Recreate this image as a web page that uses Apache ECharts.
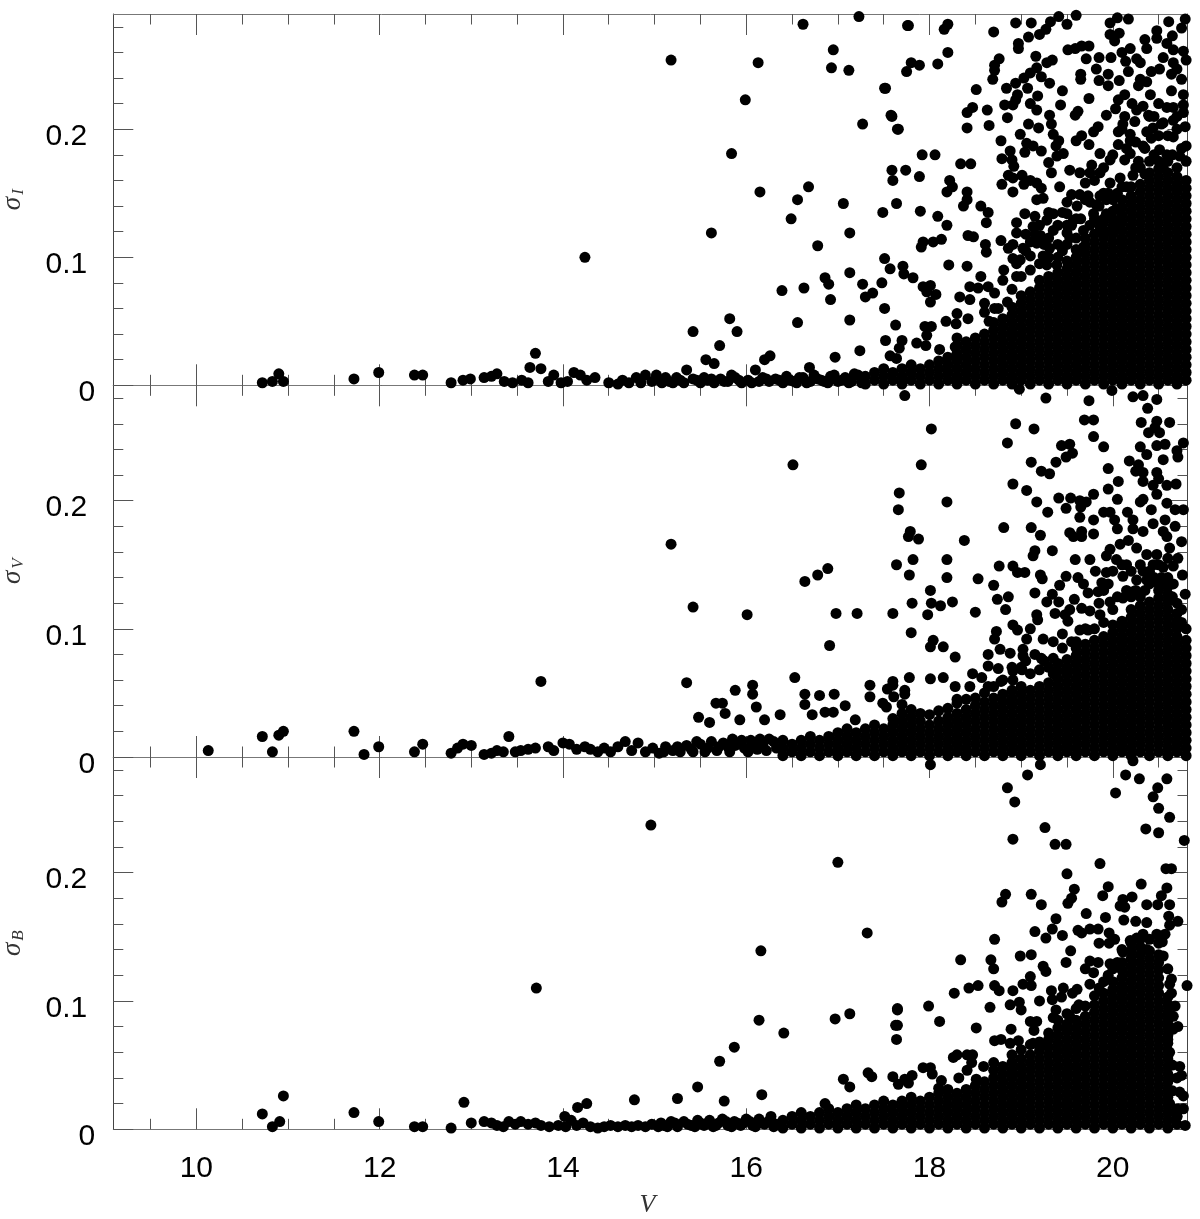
<!DOCTYPE html>
<html><head><meta charset="utf-8">
<style>html,body{margin:0;padding:0;background:#fff}#c{width:1200px;height:1219px}</style>
<script src="https://cdn.jsdelivr.net/npm/echarts@6/dist/echarts.min.js"></script>
</head><body><div id="c"></div>
<script>
const xMajor=[10,12,14,16,18,20];
const xMinor=[9.5,10.5,11,11.5,12.5,13,13.5,14.5,15,15.5,16.5,17,17.5,18.5,19,19.5,20.5];
const yMajor=[0,0.1,0.2];
const yMinor=[0.02,0.04,0.06,0.08,0.12,0.14,0.16,0.18,0.22,0.24,0.26,0.28];
const yNames=['I','V','B'];

// Individually readable points: V, sigma, V, sigma ...
const sparseI=[10.72,.002,10.83,.003,10.9,.009,10.95,.003,11.72,.005,11.99,.01,12.38,.008,12.47,.008,12.78,.002,12.91,.004,12.99,.005,13.14,.006,13.22,.007,13.28,.009,13.36,.003,13.45,.002,13.55,.004,13.64,.014,13.7,.025,13.76,.013,13.62,.002,13.84,.003,13.9,.008,13.98,.002,14.05,.003,14.12,.01,14.19,.008,14.26,.004,14.35,.006,14.24,.1,15.18,.254,16.13,.252,15.99,.223,15.84,.181,16.15,.151,15.62,.119,16.62,.282,17.23,.288,17.77,.281,16.95,.262,16.93,.248,17.12,.246,17.27,.204,17.52,.232,17.58,.211,17.65,.2,17.06,.142,16.68,.155,16.56,.145,16.49,.13,17.13,.119,16.78,.109,16.39,.074,16.63,.076,16.86,.084,16.9,.079,17.13,.088,16.92,.067,16.56,.049,17.13,.051,17.27,.079,17.3,.069,17.38,.072,15.42,.042,15.71,.031,15.82,.052,15.9,.042,15.56,.02,15.65,.017,16.26,.023,16.2,.02,17.24,.027,16.97,.022,17.52,.035,17.57,.023,16.69,.014,
14.5,.002,14.6,.001,14.65,.004,14.72,.002,14.8,.006,14.85,.002,14.9,.008,14.97,.003,15.02,.008,15.08,.002,15.12,.006,15.2,.002,15.28,.004,15.35,.012,15.42,.005,15.5,.002,15.58,.004,15.65,.002,15.72,.005,15.8,.003,15.88,.006,15.95,.002,16.02,.004,16.1,.012,16.18,.006,16.25,.003,16.32,.005,16.4,.002,16.48,.004,16.55,.002,16.62,.006,16.7,.003,16.78,.005,16.85,.003,16.92,.007,17,.003,17.08,.006,17.15,.003,17.22,.008,17.28,.004,
15.05,.004,15.16,.003,15.24,.006,15.32,.002,15.46,.004,15.54,.006,15.62,.005,15.76,.003,15.84,.008,15.92,.004,16.06,.002,16.14,.003,16.22,.005,16.36,.004,16.44,.007,16.52,.003,16.58,.006,16.66,.002,16.74,.008,16.82,.004,16.89,.002,16.96,.008,17.04,.004,17.12,.002,17.18,.009,17.26,.002,
17.76,.281,18.16,.278,18.2,.282,18.2,.26,18.09,.251,17.8,.252,17.89,.25,17.75,.245,17.51,.232,17.59,.21,17.66,.2,18.7,.276,18.94,.283,19.11,.283,18.97,.267,18.97,.263,19.08,.272,19.2,.274,19.27,.278,19.32,.284,19.41,.288,19.5,.282,19.6,.289,19.97,.283,20.05,.287,20.17,.286,19.97,.274,20.07,.275,20.02,.269,20.61,.284,20.79,.286,20.75,.279,18.76,.255,18.71,.25,18.71,.246,18.69,.239,18.51,.231,19.16,.257,19.28,.252,19.34,.254,19.17,.248,19.1,.244,19.03,.24,18.94,.236,19.22,.241,19.31,.236,18.84,.232,19.07,.232,18.96,.227,19.18,.226,19.45,.23,18.82,.219,18.91,.219,18.94,.223,19.1,.22,19.17,.215,19.43,.219,18.47,.217,18.41,.213,18.63,.215,18.85,.209,18.41,.201,18.65,.203,19.31,.211,19.33,.204,19.08,.204,19.19,.201,18.99,.196,18.78,.191,19.35,.196,19.41,.191,19.38,.187,19.06,.189,19.13,.187,19.22,.183,19.04,.182,18.88,.183,18.79,.177,18.9,.176,18.92,.171,19.46,.181,19.39,.179,19.3,.174,19.33,.166,17.92,.18,18.06,.18,18.34,.173,18.45,.173,17.59,.168,17.74,.168,17.6,.16,17.89,.163,18.22,.16,18.25,.155,18.41,.151,18.19,.151,18.86,.164,19.01,.164,18.91,.162,18.79,.157,18.91,.151,19.1,.16,19.03,.157,19.17,.158,19.22,.154,19.42,.155,17.64,.142,17.49,.135,17.9,.136,18.09,.132,18.19,.125,18.37,.14,18.41,.145,18.56,.14,18.64,.135,18.62,.127,17.93,.112,17.91,.108,18.04,.112,18.13,.114,18.42,.117,18.48,.116,18.61,.11,18.62,.104,18.78,.113,18.86,.107,18.91,.11,17.51,.099,17.57,.091,17.71,.093,17.72,.087,17.82,.084,18.21,.094,18.41,.093,18.56,.085,17.93,.077,18.01,.078,18.07,.071,18.01,.065,17.97,.073,17.48,.08,17.51,.06,17.63,.047,18.81,.09,18.8,.082,18.95,.085,18.44,.077,18.53,.076,18.64,.077,18.33,.069,18.44,.067,18.71,.072,18.6,.064,18.71,.06,18.6,.057,18.3,.056,18.42,.052,18.18,.05,18.29,.048,17.95,.046,18.02,.046,17.97,.039,17.86,.033,17.96,.031,18.3,.037,18.28,.03,18.11,.028,17.7,.035,17.67,.029,17.64,.021,
19.51,.262,19.59,.263,19.66,.265,19.74,.265,19.71,.255,19.85,.256,19.98,.256,19.82,.247,19.95,.243,19.85,.238,19.95,.234,20.07,.238,19.65,.243,19.65,.239,20.1,.26,20.14,.253,20.19,.263,20.26,.255,20.17,.245,20.3,.252,20.35,.27,20.37,.263,20.48,.277,20.48,.271,20.65,.273,20.59,.267,20.66,.262,20.77,.261,20.8,.254,20.55,.256,20.66,.252,20.7,.247,20.75,.239,20.64,.243,20.51,.247,20.42,.245,20.3,.239,20.28,.234,20.37,.237,19.74,.224,19.62,.214,19.59,.211,20.13,.227,20.06,.223,20.21,.22,20.41,.227,20.64,.23,20.77,.227,20.03,.216,19.93,.211,20.13,.21,20.11,.204,20.24,.206,20.33,.218,20.39,.211,20.26,.215,20.5,.22,20.59,.217,20.66,.217,20.77,.219,20.77,.213,19.84,.202,19.79,.198,19.66,.195,19.6,.191,19.74,.188,20.06,.198,20.19,.196,20.19,.191,20.06,.188,20.37,.198,20.44,.201,20.53,.204,20.42,.193,20.66,.207,20.79,.202,20.66,.194,20.8,.187,20.33,.187,19.86,.181,19.97,.176,20.13,.176,20.19,.181,20.28,.175,20.51,.184,20.59,.18,20.73,.179,19.53,.168,19.77,.172,19.75,.166,19.64,.166,19.86,.166,19.97,.158,20.08,.162,20.22,.164,19.7,.158,19.55,.149,19.64,.149,19.73,.148,19.86,.148,19.93,.145,19.82,.141,19.17,.145,19.24,.146,19.5,.143,19.61,.14,19.75,.143,19.35,.134,19.5,.134,19.04,.134,19.15,.132,19.28,.129,19.57,.129,19.79,.134,19.93,.134,20.04,.138,18.95,.127,18.95,.119,19.13,.124,19.21,.117,19.35,.121,19.5,.119,19.68,.121,19.86,.124,19.02,.107,19.17,.111,19.31,.107,19.1,.101,18.99,.098,18.91,.099,19.28,.094,19.39,.094,19.24,.101,19.53,.115,19.68,.108,19.9,.119,20.01,.124,
19.05,.118,19.1,.112,19.15,.118,19.2,.125,19.25,.11,19.3,.115,19.3,.135,19.4,.11,19.4,.125,19.45,.105,19.45,.135,19.5,.11,19.55,.125,19.6,.115,19.65,.13,19.7,.115,19.75,.125,19.8,.13,19.85,.14,19.9,.13,19.9,.15,19.95,.15,20,.145,20.05,.15,20.1,.155,20.15,.155,20.2,.155,20.25,.17,20.3,.17,20.35,.165,20.4,.175,20.45,.18,20.5,.175,20.55,.17,20.6,.175,20.65,.18,20.7,.17,20.75,.185,20.8,.175,20.7,.2,20.6,.195,20.5,.195,20.45,.21,20.55,.205,20.7,.21,20.4,.21,20.35,.185,20.25,.19,20.15,.185,20.1,.2,20,.18,19.9,.17,19.8,.16,19.7,.145,19.6,.13,19.5,.125,19.4,.1,19.3,.1,19.2,.095,19.1,.09,19,.085,18.9,.075,18.85,.065,18.95,.095,19.05,.105,18.75,.06,18.65,.05];

const sparseV=[10.13,.005,10.72,.016,10.83,.004,10.9,.017,10.95,.02,11.72,.02,11.83,.002,11.99,.008,12.38,.004,12.47,.01,12.78,.003,12.85,.007,12.91,.01,13,.009,13.14,.002,13.22,.003,13.28,.005,13.35,.004,13.41,.016,13.48,.004,13.54,.005,13.62,.006,13.7,.007,13.76,.059,13.84,.008,13.9,.005,14,.011,14.07,.01,14.15,.006,14.24,.008,14.3,.006,15.18,.166,15.42,.117,15.35,.058,16.01,.111,16.51,.228,16.64,.137,16.78,.142,16.89,.147,16.91,.087,16.98,.112,17.21,.112,16.53,.062,16.07,.056,15.88,.052,15.67,.042,15.74,.042,15.77,.034,15.48,.031,15.6,.027,16.07,.049,16.11,.039,15.93,.029,16.2,.029,16.37,.033,16.64,.049,16.64,.041,16.8,.048,16.96,.049,16.72,.033,16.86,.035,16.95,.035,17.08,.04,17.35,.056,17.6,.056,17.49,.042,17.35,.047,17.73,.052,17.19,.029,
14.38,.004,14.45,.007,14.52,.004,14.6,.008,14.68,.012,14.75,.005,14.82,.011,14.9,.004,14.98,.007,15.05,.003,15.12,.008,15.2,.005,15.28,.004,15.35,.009,15.42,.004,15.5,.01,15.55,.004,15.62,.012,15.68,.005,15.75,.011,15.82,.004,15.88,.009,15.95,.013,16.02,.004,16.08,.01,16.15,.014,16.22,.005,16.3,.012,
15.1,.004,15.25,.008,15.4,.006,15.46,.012,15.58,.007,15.7,.008,15.8,.008,15.85,.014,15.98,.007,16.05,.013,16.12,.006,16.18,.009,16.25,.014,16.33,.007,
17.73,.282,18.98,.287,19.27,.28,19.74,.278,19.99,.286,20.22,.281,20.33,.282,20.48,.279,20.38,.272,18.02,.256,18.94,.26,19.14,.256,19.69,.263,19.79,.263,19.79,.25,19.9,.242,18.85,.245,17.91,.228,20.31,.261,20.48,.262,20.62,.261,20.39,.253,20.51,.253,20.46,.257,19.44,.243,19.53,.244,19.56,.237,19.49,.234,19.38,.23,20.3,.242,20.37,.236,20.48,.243,20.57,.244,20.7,.239,20.77,.245,20.71,.234,20.55,.232,19.11,.23,19.22,.223,19.31,.221,20.18,.231,20.28,.228,20.25,.223,20.33,.222,20.48,.222,19.95,.225,18.91,.213,19.06,.208,19.17,.199,17.67,.206,17.66,.193,18.19,.199,20.06,.215,19.95,.209,20.05,.201,19.79,.205,19.54,.202,19.41,.202,19.49,.194,19.64,.2,19.71,.199,19.65,.195,19.29,.191,20.33,.215,20.5,.217,20.44,.212,20.59,.212,20.69,.213,20.48,.205,20.33,.201,20.3,.199,20.59,.198,20.42,.193,20.68,.193,20.77,.193,19.9,.191,19.97,.191,19.79,.185,19.64,.187,20.02,.185,20.16,.191,20.22,.185,20.22,.178,20.05,.178,18.81,.179,19.11,.179,19.21,.173,17.79,.176,17.77,.172,17.88,.17,18.38,.169,19.53,.175,19.66,.176,19.57,.172,19.66,.172,19.79,.174,20.57,.185,20.44,.182,20.33,.176,20.55,.176,20.68,.18,20.59,.172,20.75,.168,19.15,.161,19.13,.157,19.34,.161,17.64,.15,17.82,.154,18.19,.154,17.78,.142,18.19,.14,19.59,.154,19.75,.154,19.81,.145,19.93,.144,18.76,.149,18.91,.149,18.96,.144,19.04,.144,18.53,.139,18.7,.134,19.21,.142,19.23,.139,19.49,.141,19.62,.14,19.42,.134,19.68,.135,19.73,.128,19.84,.129,19.88,.136,20.76,.142,20.79,.127,18.01,.13,17.81,.12,18.02,.12,18.12,.118,18.25,.121,17.98,.111,17.6,.112,18.5,.113,18.74,.123,18.86,.125,18.83,.115,19.15,.128,19.34,.127,19.28,.121,19.41,.121,19.37,.112,19.17,.111,19.18,.107,19.58,.123,19.53,.115,19.48,.111,19.66,.116,19.75,.114,19.86,.111,19.51,.106,19.64,.099,19.73,.099,17.8,.097,18.04,.091,18.01,.086,18.15,.086,18.28,.078,18.91,.103,18.96,.099,19.1,.1,19.06,.092,19.24,.092,19.35,.09,19.45,.096,19.6,.09,18.73,.098,18.71,.092,18.77,.084,18.88,.081,18.64,.08,18.64,.071,18.75,.069,19.02,.084,19.02,.079,19.22,.077,19.35,.077,17.78,.062,18.01,.061,18.15,.062,17.6,.059,17.54,.053,17.61,.047,17.73,.049,17.7,.041,17.53,.039,18.47,.065,18.57,.062,18.64,.055,18.44,.055,18.28,.055,18.3,.045,18.78,.059,18.91,.067,19.01,.068,18.91,.06,19.97,.162,20.08,.166,20.17,.169,20.26,.163,19.93,.157,20.04,.154,20.15,.15,20.37,.158,20.48,.158,20.62,.163,20.71,.155,20.66,.149,20.44,.15,20.33,.145,20.55,.148,20.11,.141,20.26,.138,19.97,.121,20.11,.124,20.22,.129,20.37,.138,20.53,.14,20.66,.135,
18.8,.06,18.9,.07,19,.07,19.1,.065,19.2,.068,19.3,.07,19.35,.065,19.25,.075,19.15,.08,19.05,.075,19.45,.085,19.55,.09,19.7,.1,19.8,.1,19.9,.105,20,.115,20.05,.125,20.15,.13,20.2,.125,20.25,.13,20.3,.125,20.35,.13,20.4,.135,20.45,.14,20.5,.135,20.55,.135,20.6,.14,20.65,.125,20.7,.12,20.75,.115,20.8,.1,20.75,.105,19.95,.135,19.9,.13,19.85,.12,20,.145,20.1,.15,20.2,.145,20.3,.15,20.4,.145,20.5,.15,20.6,.155,18.2,.038,18.1,.036,18,.033,17.9,.034,18.3,.042,18.4,.045,18.5,.046,18.6,.05,18.7,.055,17.8,.037,17.7,.034,17.6,.03];

const sparseB=[10.72,.012,10.83,.002,10.91,.006,10.95,.026,11.72,.013,11.99,.006,12.38,.002,12.47,.002,12.78,.001,12.92,.021,13,.005,13.14,.006,13.22,.005,13.28,.003,13.35,.002,13.41,.006,13.48,.004,13.54,.006,13.62,.004,13.7,.005,13.76,.003,13.71,.11,14.96,.237,17,.208,17.32,.153,16.16,.139,16.14,.085,16.41,.075,15.71,.053,15.87,.064,16.97,.086,17.13,.09,14.02,.01,14.16,.017,14.26,.02,14.09,.007,14.78,.023,15.25,.024,15.47,.033,15.76,.022,16.17,.027,17.65,.093,17.65,.081,17.33,.044,17.37,.041,17.06,.039,17.13,.033,16.86,.02,
13.85,.002,13.95,.003,14.03,.002,14.15,.003,14.22,.005,14.3,.002,14.38,.001,14.45,.002,14.52,.003,14.6,.002,14.68,.003,14.75,.002,14.82,.003,14.9,.002,14.97,.004,15.04,.002,15.1,.003,15.18,.006,15.25,.002,15.32,.006,15.4,.003,15.47,.007,15.54,.003,15.6,.007,15.67,.003,15.74,.008,15.8,.003,15.87,.006,15.94,.003,16,.008,16.07,.003,16.14,.008,16.2,.004,16.27,.01,16.33,.004,
15.07,.005,15.14,.002,15.22,.005,15.36,.004,15.44,.002,15.5,.005,15.58,.005,15.64,.002,15.7,.005,15.78,.006,15.84,.002,15.9,.005,15.97,.005,16.04,.006,16.1,.002,16.17,.005,16.24,.006,16.3,.002,
18.01,.284,19.21,.284,19.07,.276,20.22,.287,20.14,.276,20.29,.273,20.59,.273,20.49,.266,20.44,.259,20.03,.262,18.85,.266,18.93,.255,20.5,.25,20.62,.243,20.36,.234,20.5,.231,20.78,.225,19.26,.235,18.91,.226,19.37,.222,19.49,.222,19.86,.207,19.5,.199,20.58,.203,20.64,.203,19.58,.187,19.95,.189,20.31,.191,20.59,.188,18.83,.183,18.79,.177,19.11,.183,19.22,.175,19.55,.18,19.51,.176,19.89,.182,20.21,.181,20.11,.179,20.08,.174,20.13,.173,20.37,.175,20.49,.175,20.62,.175,20.53,.182,19.71,.168,19.92,.165,19.38,.164,20.12,.163,20.25,.162,20.37,.161,20.61,.166,20.62,.159,20.71,.162,19.15,.154,19.34,.156,19.27,.149,19.45,.151,19.62,.155,19.66,.153,19.75,.156,19.84,.156,18.71,.148,19.96,.153,20.02,.148,19.96,.145,19.85,.145,20.33,.152,20.48,.152,20.57,.152,20.54,.146,20.26,.149,20.19,.147,18.34,.132,18.67,.132,18.7,.125,18.99,.135,19.11,.136,19.54,.139,19.49,.13,19.24,.127,19.27,.123,19.75,.131,19.84,.13,19.7,.125,19.97,.129,20.11,.138,20.37,.14,20.55,.135,19.1,.119,19.79,.122,19.75,.113,20.64,.117,20.81,.112,20.64,.106,18.71,.112,18.76,.108,18.53,.112,18.43,.11,18.27,.106,18.91,.108,19.02,.113,19.11,.112,19.33,.108,19.46,.11,19.61,.109,19.44,.103,19.56,.106,19.2,.1,19.34,.101,19.63,.097,19.38,.093,18.88,.097,18.98,.099,19,.093,18.66,.095,17.99,.096,17.65,.094,17.63,.081,17.64,.07,18.11,.084,18.51,.079,18.89,.078,19.35,.087,19.53,.088,19.1,.084,19.17,.084,19.14,.077,18.71,.069,18.78,.07,18.88,.067,18.97,.069,19.13,.067,19.24,.066,18.26,.056,18.3,.058,18.41,.058,18.47,.058,18.46,.052,18.41,.046,18.32,.04,17.93,.048,18.01,.048,18.03,.043,17.6,.041,17.66,.035,17.73,.039,17.81,.042,17.77,.036,18.13,.038,18.1,.032,18.59,.049,18.51,.039,18.7,.052,20.68,.096,20.66,.088,20.71,.08,20.66,.078,20.73,.049,20.75,.042,20.73,.029,20.77,.026,20.77,.016,20.79,.003,
18.9,.058,19,.062,19.1,.066,19.2,.068,19.3,.075,19.4,.085,19.5,.09,19.6,.094,19.7,.096,19.8,.104,19.9,.115,20,.125,20.05,.13,19.85,.11,19.95,.12,20.1,.14,20.2,.145,20.3,.148,20.4,.148,20.5,.145,20.6,.125,20.62,.113,20.6,.09,20.62,.08,20.6,.07,20.62,.06,20.65,.05,20.62,.04,20.65,.03,20.62,.02,20.7,.01];

// Merged black areas, read as columns: V, then sigma values stacked in that column
const denseI=[
[17.3,.001,.007],[17.4,.004,.01],[17.5,.001,.007,.013],[17.6,.004,.01],[17.7,.001,.007,.013],[17.8,.004,.01,.016],[17.9,.001,.007,.013],[18,.004,.01,.016],[18.1,.001,.007,.013,.019],[18.2,.004,.01,.016,.022],
[18.3,.001,.007,.013,.019,.025,.031],[18.4,.004,.01,.016,.022,.028,.034],[18.5,.001,.007,.013,.019,.025,.031,.037],[18.6,.004,.01,.016,.022,.028,.034,.04],[18.7,.001,.007,.013,.019,.025,.031,.037,.043,.049],[18.8,.004,.01,.016,.022,.028,.034,.04,.046,.052],
[18.9,.001,.007,.013,.019,.025,.031,.037,.043,.049,.055,.061],[19,.004,.01,.016,.022,.028,.034,.04,.046,.052,.058,.064,.07],[19.1,.001,.007,.013,.019,.025,.031,.037,.043,.049,.055,.061,.067,.073],[19.2,.004,.01,.016,.022,.028,.034,.04,.046,.052,.058,.064,.07,.076,.082],
[19.3,.001,.007,.013,.019,.025,.031,.037,.043,.049,.055,.061,.067,.073,.079,.085],[19.4,.004,.01,.016,.022,.028,.034,.04,.046,.052,.058,.064,.07,.076,.082,.088],[19.5,.001,.007,.013,.019,.025,.031,.037,.043,.049,.055,.061,.067,.073,.079,.085,.091,.097],[19.6,.004,.01,.016,.022,.028,.034,.04,.046,.052,.058,.064,.07,.076,.082,.088,.094,.1,.106],
[19.7,.001,.007,.013,.019,.025,.031,.037,.043,.049,.055,.061,.067,.073,.079,.085,.091,.097,.103,.109],[19.8,.004,.01,.016,.022,.028,.034,.04,.046,.052,.058,.064,.07,.076,.082,.088,.094,.1,.106,.112,.118],[19.9,.001,.007,.013,.019,.025,.031,.037,.043,.049,.055,.061,.067,.073,.079,.085,.091,.097,.103,.109,.115,.121,.127],
[20,.004,.01,.016,.022,.028,.034,.04,.046,.052,.058,.064,.07,.076,.082,.088,.094,.1,.106,.112,.118,.124,.13,.136],[20.1,.001,.007,.013,.019,.025,.031,.037,.043,.049,.055,.061,.067,.073,.079,.085,.091,.097,.103,.109,.115,.121,.127,.133,.139,.145],[20.2,.004,.01,.016,.022,.028,.034,.04,.046,.052,.058,.064,.07,.076,.082,.088,.094,.1,.106,.112,.118,.124,.13,.136,.142,.148],
[20.3,.001,.007,.013,.019,.025,.031,.037,.043,.049,.055,.061,.067,.073,.079,.085,.091,.097,.103,.109,.115,.121,.127,.133,.139,.145,.151,.157],[20.4,.004,.01,.016,.022,.028,.034,.04,.046,.052,.058,.064,.07,.076,.082,.088,.094,.1,.106,.112,.118,.124,.13,.136,.142,.148,.154,.16,.166],
[20.5,.001,.007,.013,.019,.025,.031,.037,.043,.049,.055,.061,.067,.073,.079,.085,.091,.097,.103,.109,.115,.121,.127,.133,.139,.145,.151,.157,.163,.169],[20.6,.004,.01,.016,.022,.028,.034,.04,.046,.052,.058,.064,.07,.076,.082,.088,.094,.1,.106,.112,.118,.124,.13,.136,.142,.148,.154,.16,.166],
[20.7,.001,.007,.013,.019,.025,.031,.037,.043,.049,.055,.061,.067,.073,.079,.085,.091,.097,.103,.109,.115,.121,.127,.133,.139,.145,.151,.157,.163],[20.8,.004,.01,.016,.022,.028,.034,.04,.046,.052,.058,.064,.07,.076,.082,.088,.094,.1,.106,.112,.118,.124,.13,.136,.142,.148,.154,.16]];

const denseV=[
[16.4,.001,.007,.013],[16.5,.004,.01],[16.6,.001,.007,.013],[16.7,.004,.01,.016],[16.8,.001,.007,.013],[16.9,.004,.01,.016],[17,.001,.007,.013,.019],[17.1,.004,.01,.016,.022],[17.2,.001,.007,.013,.019],[17.3,.004,.01,.016,.022],[17.4,.001,.007,.013,.019,.025],[17.5,.004,.01,.016,.022],[17.6,.001,.007,.013,.019,.025],[17.7,.004,.01,.016,.022,.028],[17.8,.001,.007,.013,.019,.025,.031],[17.9,.004,.01,.016,.022,.028],[18,.001,.007,.013,.019,.025],[18.1,.004,.01,.016,.022,.028],[18.2,.001,.007,.013,.019,.025,.031],[18.3,.004,.01,.016,.022,.028,.034],[18.4,.001,.007,.013,.019,.025,.031,.037],[18.5,.004,.01,.016,.022,.028,.034,.04],[18.6,.001,.007,.013,.019,.025,.031,.037,.043],[18.7,.004,.01,.016,.022,.028,.034,.04,.046],[18.8,.001,.007,.013,.019,.025,.031,.037,.043,.049],[18.9,.004,.01,.016,.022,.028,.034,.04,.046,.052],[19,.001,.007,.013,.019,.025,.031,.037,.043,.049,.055],[19.1,.004,.01,.016,.022,.028,.034,.04,.046,.052],[19.2,.001,.007,.013,.019,.025,.031,.037,.043,.049,.055],[19.3,.004,.01,.016,.022,.028,.034,.04,.046,.052,.058],
[19.4,.001,.007,.013,.019,.025,.031,.037,.043,.049,.055,.061,.067,.073],[19.5,.004,.01,.016,.022,.028,.034,.04,.046,.052,.058,.064,.07,.076],[19.6,.001,.007,.013,.019,.025,.031,.037,.043,.049,.055,.061,.067,.073,.079,.085],[19.7,.004,.01,.016,.022,.028,.034,.04,.046,.052,.058,.064,.07,.076,.082,.088],[19.8,.001,.007,.013,.019,.025,.031,.037,.043,.049,.055,.061,.067,.073,.079,.085,.091],[19.9,.004,.01,.016,.022,.028,.034,.04,.046,.052,.058,.064,.07,.076,.082,.088,.094],
[20,.001,.007,.013,.019,.025,.031,.037,.043,.049,.055,.061,.067,.073,.079,.085,.091,.097,.103],[20.1,.004,.01,.016,.022,.028,.034,.04,.046,.052,.058,.064,.07,.076,.082,.088,.094,.1,.106],[20.2,.001,.007,.013,.019,.025,.031,.037,.043,.049,.055,.061,.067,.073,.079,.085,.091,.097,.103,.109,.115],[20.3,.004,.01,.016,.022,.028,.034,.04,.046,.052,.058,.064,.07,.076,.082,.088,.094,.1,.106,.112,.118],[20.4,.001,.007,.013,.019,.025,.031,.037,.043,.049,.055,.061,.067,.073,.079,.085,.091,.097,.103,.109,.115,.121],[20.5,.004,.01,.016,.022,.028,.034,.04,.046,.052,.058,.064,.07,.076,.082,.088,.094,.1,.106,.112,.118,.124,.13],[20.6,.001,.007,.013,.019,.025,.031,.037,.043,.049,.055,.061,.067,.073,.079,.085,.091,.097,.103,.109,.115,.121,.127,.133],[20.7,.004,.01,.016,.022,.028,.034,.04,.046,.052,.058,.064,.07,.076,.082,.088,.094,.1,.106,.112],[20.8,.001,.007,.013,.019,.025,.031,.037,.043,.049,.055,.061,.067,.073,.079,.085,.091]];

const denseB=[
[16.4,.001,.007],[16.5,.004,.01],[16.6,.001,.007,.013],[16.7,.004,.01],[16.8,.001,.007,.013],[16.9,.004,.01,.016],[17,.001,.007,.013],[17.1,.004,.01,.016],[17.2,.001,.007,.013,.019],[17.3,.004,.01,.016],[17.4,.001,.007,.013,.019],[17.5,.004,.01,.016,.022],[17.6,.001,.007,.013,.019],[17.7,.004,.01,.016,.022],[17.8,.001,.007,.013,.019,.025],[17.9,.004,.01,.016,.022],[18,.001,.007,.013,.019,.025],[18.1,.004,.01,.016,.022,.028],[18.2,.001,.007,.013,.019,.025,.031],[18.3,.004,.01,.016,.022,.028],[18.4,.001,.007,.013,.019,.025,.031],[18.5,.004,.01,.016,.022,.028,.034],[18.6,.001,.007,.013,.019,.025,.031,.037],[18.7,.004,.01,.016,.022,.028,.034,.04,.046],[18.8,.001,.007,.013,.019,.025,.031,.037,.043,.049],[18.9,.004,.01,.016,.022,.028,.034,.04,.046,.052],[19,.001,.007,.013,.019,.025,.031,.037,.043,.049,.055],[19.1,.004,.01,.016,.022,.028,.034,.04,.046,.052,.058],[19.2,.001,.007,.013,.019,.025,.031,.037,.043,.049,.055,.061],[19.3,.004,.01,.016,.022,.028,.034,.04,.046,.052,.058,.064,.07],
[19.4,.001,.007,.013,.019,.025,.031,.037,.043,.049,.055,.061,.067,.073,.079],[19.5,.004,.01,.016,.022,.028,.034,.04,.046,.052,.058,.064,.07,.076,.082],[19.6,.001,.007,.013,.019,.025,.031,.037,.043,.049,.055,.061,.067,.073,.079,.085],[19.7,.004,.01,.016,.022,.028,.034,.04,.046,.052,.058,.064,.07,.076,.082,.088],[19.8,.001,.007,.013,.019,.025,.031,.037,.043,.049,.055,.061,.067,.073,.079,.085,.091,.097],[19.9,.004,.01,.016,.022,.028,.034,.04,.046,.052,.058,.064,.07,.076,.082,.088,.094,.1,.106],
[20,.001,.007,.013,.019,.025,.031,.037,.043,.049,.055,.061,.067,.073,.079,.085,.091,.097,.103,.109,.115],[20.1,.004,.01,.016,.022,.028,.034,.04,.046,.052,.058,.064,.07,.076,.082,.088,.094,.1,.106,.112,.118,.124,.13],[20.2,.001,.007,.013,.019,.025,.031,.037,.043,.049,.055,.061,.067,.073,.079,.085,.091,.097,.103,.109,.115,.121,.127,.133,.139],[20.3,.004,.01,.016,.022,.028,.034,.04,.046,.052,.058,.064,.07,.076,.082,.088,.094,.1,.106,.112,.118,.124,.13,.136,.142],[20.4,.001,.007,.013,.019,.025,.031,.037,.043,.049,.055,.061,.067,.073,.079,.085,.091,.097,.103,.109,.115,.121,.127,.133,.139],[20.5,.004,.01,.016,.022,.028,.034,.04,.046,.052,.058,.064,.07,.076,.082,.088,.094,.1,.106,.112,.118,.124,.13,.136],[20.6,.001,.007,.013,.019,.025,.031,.037,.043,.049,.055,.061,.067,.073,.079,.085,.091,.097,.103],[20.7,.004,.01,.016,.04]];

function pairs(flat){const o=[];for(let i=0;i+1<flat.length;i+=2)o.push([flat[i],flat[i+1]]);return o;}
function columns(cols){const o=[];cols.forEach(c=>{for(let i=1;i<c.length;i++)o.push([c[0],c[i]]);});return o;}
const panelData=[pairs(sparseI).concat(columns(denseI)),pairs(sparseV).concat(columns(denseV)),pairs(sparseB).concat(columns(denseB))];

const X_MIN=9.094,X_MAX=20.815,Y_MAX=0.29;
const tickColor='#555';
const grids=[{top:14,height:371.3},{top:385.3,height:371.7},{top:757,height:372.3}].map(g=>({left:113.3,right:12.5,top:g.top,height:g.height,outerBoundsMode:'none'}));

function xAxis(g,position,values,len,labels){
  return {type:'value',gridIndex:g,position,min:X_MIN,max:X_MAX,splitLine:{show:false},
    axisLine:{show:len>15,onZero:false,lineStyle:{color:g===2||position==='top'?'#777':'#111',width:1}},
    axisTick:{show:true,inside:true,length:len,customValues:values,lineStyle:{color:tickColor,width:1}},
    axisLabel:labels&&g===2?{show:true,customValues:values,margin:24,fontFamily:'Liberation Sans',fontSize:30,color:'#000',formatter:v=>String(v)}:{show:false},
    ...(labels&&g===2?{name:'V',nameLocation:'middle',nameGap:63,nameTextStyle:{fontFamily:'Liberation Serif',fontStyle:'italic',fontSize:26,color:'#333',padding:[0,6,0,0]}}:{})};
}
function yAxis(g,position,values,len,labels){
  return {type:'value',gridIndex:g,position,min:0,max:Y_MAX,splitLine:{show:false},
    axisLine:{show:len>15,onZero:false,lineStyle:{color:'#444',width:1}},
    axisTick:{show:true,inside:true,length:len,customValues:values,lineStyle:{color:tickColor,width:1}},
    axisLabel:labels?{show:true,customValues:values,margin:18,
      formatter:v=>v===0?'{z|0}':'{n|'+v+'}',
      rich:{z:{fontFamily:'Liberation Sans',fontSize:30,color:'#000',padding:[15,0,0,0]},
            n:{fontFamily:'Liberation Sans',fontSize:30,color:'#000',padding:[15,8,0,0]}}}:{show:false},
    ...(labels?{name:'{s|σ}{t|'+yNames[g]+'}',nameLocation:'middle',nameGap:86,nameRotate:90,
      nameTextStyle:{rich:{s:{fontFamily:'Liberation Serif',fontStyle:'italic',fontSize:27,color:'#333'},
                           t:{fontFamily:'Liberation Serif',fontStyle:'italic',fontSize:17,color:'#333',padding:[12,0,0,2]}}}}:{})};
}
const xAxes=[],yAxes=[],series=[];
grids.forEach((_,g)=>{
  xAxes.push(xAxis(g,'bottom',xMajor,21,true),xAxis(g,'bottom',xMinor,10.5,false),xAxis(g,'top',xMajor,21,false),xAxis(g,'top',xMinor,10.5,false));
  yAxes.push(yAxis(g,'left',yMajor,20,true),yAxis(g,'left',yMinor,10,false),yAxis(g,'right',yMajor,20,false),yAxis(g,'right',yMinor,10,false));
  series.push({type:'scatter',xAxisIndex:g*4,yAxisIndex:g*4,data:panelData[g],symbol:'circle',symbolSize:11,
    itemStyle:{color:'#000',opacity:1},clip:false,animation:false,silent:true,z:5});
});
const chart=echarts.init(document.getElementById('c'),null,{renderer:'canvas'});
chart.setOption({backgroundColor:'#fff',animation:false,grid:grids,xAxis:xAxes,yAxis:yAxes,series});
</script></body></html>
